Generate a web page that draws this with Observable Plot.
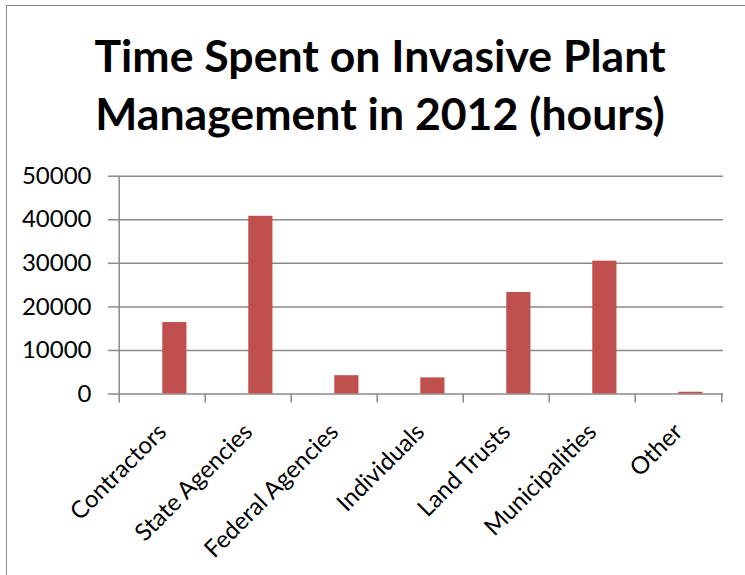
<!DOCTYPE html>
<html>
<head>
<meta charset="utf-8">
<script src="https://cdn.jsdelivr.net/npm/d3@7"></script>
<script src="https://cdn.jsdelivr.net/npm/@observablehq/plot@0.6"></script>
<style>
  html, body { margin: 0; padding: 0; background: #fff; }
  #chart { position: relative; width: 745px; height: 575px; overflow: hidden; font-family: Lato, "Open Sans", sans-serif; }
  #frame { position: absolute; left: 6px; top: 5px; width: 900px; height: 900px; border: 1.5px solid #8a8a8a; box-sizing: border-box; }
  #title { position: absolute; left: 0; top: 26px; width: 760px; text-align: center; font-weight: bold; font-size: 44.6px; line-height: 58px; color: #000; }
  #plot { position: absolute; left: 0; top: 145px; }
</style>
</head>
<body>
<div id="chart">
  <div id="frame"></div>
  <div id="title">Time Spent on Invasive Plant<br>Management in 2012 (hours)</div>
  <div id="plot"></div>
</div>
<script>
// Hours spent on invasive plant management in 2012, by group
const categories = ["Contractors", "State Agencies", "Federal Agencies", "Individuals", "Land Trusts", "Municipalities", "Other"];
const hours = [16400, 40800, 4200, 3700, 23300, 30500, 400];
const yTicks = [0, 10000, 20000, 30000, 40000, 50000];

const table = categories.map((category, i) => ({category, hours: hours[i]}));

const width = 745, height = 430;
const marginLeft = 117, marginRight = 22, marginTop = 30.7, marginBottom = 181.5;
const bandWidth = (width - marginLeft - marginRight) / categories.length;
const barWidth = bandWidth / 3.5; // clustered layout: the drawn series sits right of centre
const axisGray = "#8a8a8a";
const labelSize = 24;

const chart = Plot.plot({
  width, height, marginLeft, marginRight, marginTop, marginBottom,
  style: {fontFamily: "Lato, 'Open Sans', sans-serif", fontSize: labelSize + "px", color: "#000", background: "transparent", overflow: "visible"},
  x: {domain: categories, padding: 0, axis: null},
  y: {domain: [0, 50000], axis: null},
  marks: [
    Plot.gridY(yTicks, {stroke: axisGray, strokeOpacity: 1, strokeWidth: 1.5}),
    Plot.axisY(yTicks, {tickSize: 9, tickPadding: 17, stroke: axisGray, strokeWidth: 1.5, fill: "#000", fontSize: labelSize, tickFormat: d => String(d), label: null}),
    // vertical axis line along the left edge of the first band
    Plot.ruleX([categories[0]], {x: d => d, dx: -bandWidth / 2, stroke: axisGray, strokeWidth: 1.5}),
    // category tick marks sit on band boundaries
    Plot.axisX(categories, {tickSize: 9, tickFormat: () => "", dx: -bandWidth / 2, stroke: axisGray, strokeWidth: 1.5, label: null}),
    Plot.axisX([categories[categories.length - 1]], {tickSize: 9, tickFormat: () => "", dx: bandWidth / 2, stroke: axisGray, strokeWidth: 1.5, label: null}),
    Plot.barY(table, {x: "category", y: "hours", fill: "#C0504D", insetLeft: bandWidth / 2, insetRight: bandWidth / 2 - barWidth}),
    Plot.text(table, {x: "category", frameAnchor: "bottom", text: "category", rotate: -45, textAnchor: "end", lineAnchor: "middle", dy: 34, fontSize: labelSize, fill: "#000"})
  ]
});
document.getElementById("plot").appendChild(chart);
</script>
</body>
</html>
